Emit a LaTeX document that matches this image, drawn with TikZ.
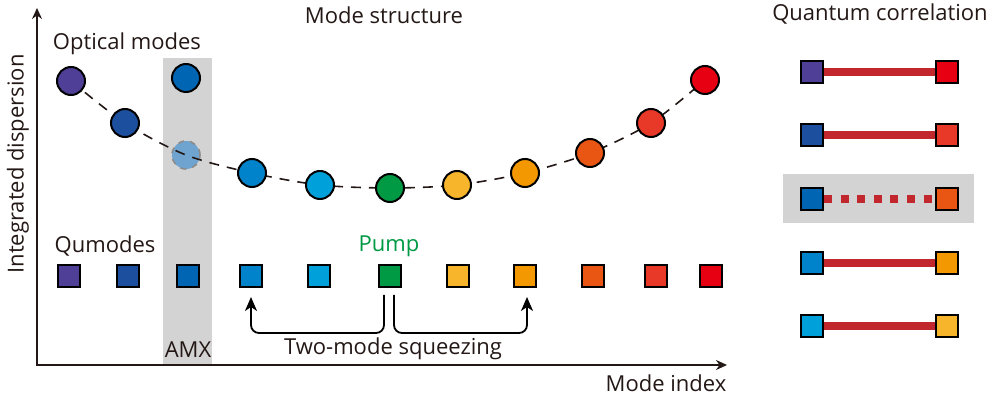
\documentclass[tikz,border=0pt]{standalone}
\usepackage{fontspec}
\setmainfont{Open Sans}
\usetikzlibrary{arrows.meta,backgrounds,positioning}
\definecolor{qink}{HTML}{231815}
\definecolor{qgray}{HTML}{D3D3D3}
\definecolor{qred}{HTML}{C1272D}
\definecolor{qgreen}{HTML}{009944}
\definecolor{ghostblue}{HTML}{6FA4D1}
\definecolor{mc1}{HTML}{4F3F96}
\definecolor{mc2}{HTML}{1D4F9F}
\definecolor{mc3}{HTML}{0066B3}
\definecolor{mc4}{HTML}{0083CB}
\definecolor{mc5}{HTML}{00A0DB}
\definecolor{mc6}{HTML}{009944}
\definecolor{mc7}{HTML}{F7B52C}
\definecolor{mc8}{HTML}{F39800}
\definecolor{mc9}{HTML}{E95513}
\definecolor{mc10}{HTML}{E83828}
\definecolor{mc11}{HTML}{E60012}
\tikzset{
  mode/.style={circle,draw=black,line width=1pt,minimum size=14pt,inner sep=0pt,fill=#1},
  ghost/.style={circle,draw=black!45,dashed,line width=.8pt,minimum size=14pt,inner sep=0pt,fill=ghostblue},
  qumode/.style={rectangle,draw=black,line width=.8pt,minimum size=11.2pt,inner sep=0pt,fill=#1},
  disp/.style={draw=qink,line width=.8pt,dash pattern=on 5pt off 4pt},
  link/.style={draw=qred,line width=4pt},
  dotlink/.style={link,dash pattern=on 4pt off 4.3pt},
  sqz/.style={-{Stealth[length=7pt,width=6pt,inset=2pt]},draw=black,line width=.9pt,rounded corners=4pt},
  axis/.style={{Stealth[length=5.5pt,width=5pt]}-{Stealth[length=5.5pt,width=5pt]},draw=qink,line width=.8pt},
  lab/.style={font=\fontsize{11}{13}\selectfont,text=qink},
}
\begin{document}
\begin{tikzpicture}[x=.5pt,y=-.5pt]
  \useasboundingbox (0,0) rectangle (996,395);
  % axes
  \coordinate (o) at (37,365);
  \coordinate (ytip) at (37,8);
  \coordinate (xtip) at (727,365);
  \draw[axis] (ytip) -- (o) -- (xtip);
  \node[lab,rotate=90] (ylab) at (18,164) {Integrated dispersion};
  \node[lab] (xlab) at (666,383) {Mode index};
  \node[lab] (title) at (384,15) {Mode structure};
  \node[lab] (optlab) at (127,44) {Optical modes};
  \node[lab] (qulab) at (105,246) {Qumodes};
  \node[lab,text=qgreen] (pump) at (389,246) {Pump};
  % optical modes
  \foreach \i/\x/\y in {1/71/81,2/125/123,3/186/78,4/252/173,5/320/185,6/390/188,
                        7/457/185,8/525/173,9/590/153,10/651/123,11/705/80} {
    \node[mode=mc\i] (m\i) at (\x,\y) {};
  }
  % qumodes
  \foreach \i/\x in {1/69,2/128,3/188,4/251,5/319,6/390,7/458,8/525,9/593,10/656,11/711} {
    \node[qumode=mc\i] (q\i) at (\x,276) {};
  }
  \begin{scope}[on background layer]
    \fill[qgray] (163,58) rectangle (212,365);
    \node[ghost] (g3) at (186,155) {};
    \draw[disp] plot[smooth] coordinates {(m1.center) (m2.center) (g3.center) (m4.center)
      (m5.center) (m6.center) (m7.center) (m8.center) (m9.center) (m10.center) (m11.center)};
    \fill[qgray] (783,174) rectangle (974,223);
  \end{scope}
  \node[lab] (amx) at (188,350) {AMX};
  % two-mode squeezing
  \draw[sqz] ([xshift=-3pt,yshift=-3.5pt]q6.south) -- ++(0,-19pt) -| ([yshift=-4.5pt]q4.south);
  \draw[sqz] ([xshift=2pt,yshift=-3.5pt]q6.south) -- ++(0,-19pt) -| ([xshift=1pt,yshift=-4.5pt]q8.south);
  \node[lab] (sqzlab) at (393,349) {Two-mode squeezing};
  % quantum correlation
  \node[lab] (corr) at (880,14) {Quantum correlation};
  \foreach \k/\a/\b/\y in {1/mc1/mc11/72,2/mc2/mc10/135,3/mc3/mc9/199,4/mc4/mc8/263,5/mc5/mc7/326} {
    \node[qumode=\a] (l\k) at (812,\y) {};
    \node[qumode=\b] (r\k) at (947,\y) {};
  }
  \foreach \k in {1,2,4,5} {
    \draw[link] (l\k) -- (r\k);
  }
  \draw[dotlink] (l3) -- (r3);
\end{tikzpicture}
\end{document}
